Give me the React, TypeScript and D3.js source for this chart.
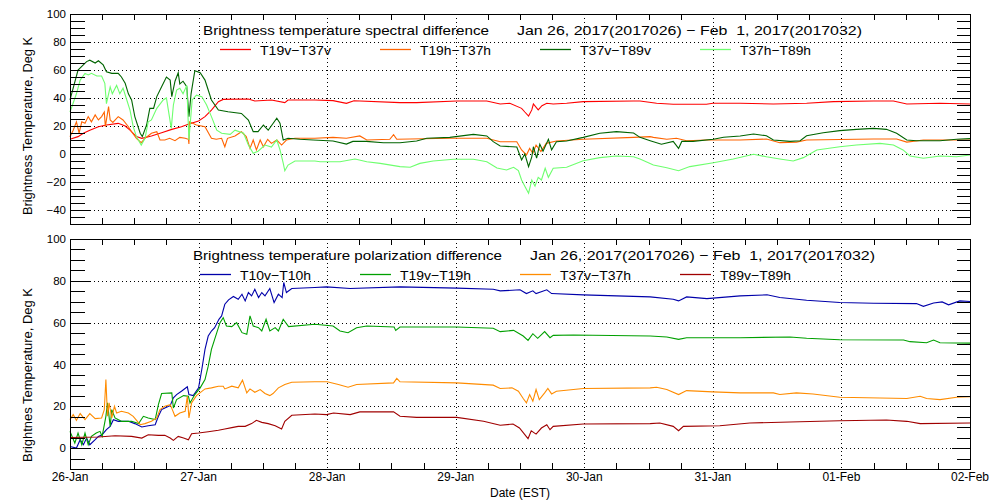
import * as d3 from "d3";

// hours since 26-Jan 00:00 EST, value in Deg K
const t19vT37v: [number, number][] = [
  [0, 10.5], [1.5, 12.4], [2.5, 14.8], [3.7, 17], [5.3, 19.5], [6.8, 20.7], [9, 21.9], [10.3, 20],
  [11.2, 17], [12.4, 12.4], [13.4, 11.2], [15.2, 12.9], [17.1, 15.2], [19, 17.6], [20.8, 19.5],
  [22.2, 21.4], [24, 23.6], [25.2, 26.7], [26.4, 31.4], [27.7, 37.4], [28.6, 39], [33.3, 39.3],
  [34.5, 37.9], [37.6, 38.6], [40.1, 36.7], [40.7, 38.6], [45.7, 38.6], [49.1, 38.1], [51.6, 36.2],
  [53, 38], [61.6, 36.7], [64.7, 36.7], [72.2, 37.9], [77.8, 37.9], [80.3, 35.7], [82.1, 36.2],
  [84.3, 32.6], [84.9, 30], [85.6, 27.1], [86.2, 31.5], [86.5, 35.7], [87.4, 31.5], [88.1, 34.5],
  [89, 36.2], [90.2, 35.7], [92.7, 36.2], [95.8, 37.4], [105.2, 37.9], [106.4, 37.9], [109.5, 36.2],
  [112.6, 35.5], [118.8, 35.5], [120, 36.2], [125.1, 36.2], [131.3, 35.7], [137.5, 36.2],
  [142.5, 37.4], [150, 37.9], [153.7, 37.9], [156.2, 35.7], [162.4, 36.2], [168, 35.7],
];

const t19hT37h: [number, number][] = [
  [0, 12.4], [0.6, 17], [1.2, 23], [1.7, 15], [2.2, 23], [2.8, 22], [3.4, 26.7], [4, 23], [4.7, 27.9],
  [5.3, 24.3], [5.9, 26.7], [6.4, 30], [6.6, 19.5], [7.2, 33.8], [7.5, 24.3], [8, 22.6], [9, 26.7],
  [9.9, 24.3], [10.9, 19.5], [11.5, 15.9], [12.4, 11.2], [13.3, 8.1], [14, 11.2], [15.2, 14.8],
  [16.2, 15.9], [16.8, 10], [17.7, 10], [18.6, 11.2], [19.6, 9.5], [20.5, 11.9], [21.5, 11.2],
  [22.1, 10.5], [22.2, 7.1], [22.3, 23], [23.6, 20.7], [25.2, 19.5], [26.4, 11.2], [27.3, 10.5],
  [28.3, 11.2], [28.9, 5.2], [29.4, 11.2], [30.8, 12.9], [32, 15.9], [32.9, 12.4], [33.6, 4],
  [34.2, 10], [34.8, 2.9], [35.5, 10], [36.1, 5.2], [36.9, 10.5], [37.6, 7.6], [38.6, 10],
  [39.5, 6.4], [40.4, 10], [42, 11.2], [45.7, 11.2], [49.1, 11.9], [51.6, 11.2], [54.1, 12.9],
  [55.4, 10], [59.7, 10.5], [60.4, 13.8], [61, 10.5], [70.9, 11.2], [77.8, 11.2], [80.3, 8.8],
  [83.4, 8.8], [84.3, 2.9], [85.2, -0.7], [85.8, 4], [86.4, 0.5], [87, 6.4], [87.9, 1.7], [88.9, 7.6],
  [90.8, 9.3], [95.8, 10.5], [105.2, 11.9], [108.3, 12.4], [108.9, 11.9], [111.4, 10.5],
  [113.2, 11.2], [115.1, 9.5], [118.8, 10], [125.1, 10], [130, 10.7], [132.5, 8.1], [135.6, 8.5],
  [137.5, 10], [150, 10.7], [154.3, 10.7], [156.2, 8.5], [159.3, 10], [168, 10],
];

const t37vT89v: [number, number][] = [
  [0, 38.6], [1.5, 60], [3.1, 66], [3.7, 67], [4.7, 65], [5.3, 66.6], [6.2, 63.6], [6.8, 58.8],
  [7.8, 57.6], [9, 57.6], [9.6, 55], [10.3, 50.5], [10.9, 43], [11.5, 38.6], [12.1, 26.7],
  [13.1, 14.8], [13.5, 12.4], [14.3, 20.7], [14.9, 32.6], [15.6, 32.6], [16.2, 41], [17.1, 48],
  [18, 55], [18.7, 52.8], [19, 41], [19.6, 52], [20.2, 58], [20.5, 50], [21.1, 52], [21.8, 48],
  [22.2, 26.7], [22.6, 43], [23.3, 59.5], [24.3, 58], [25.2, 52.8], [25.8, 45.7], [26.4, 38.6],
  [27.7, 31.4], [29.5, 30.2], [32, 29], [33.3, 24.3], [34.2, 16], [35.1, 16], [36.1, 20.7],
  [37, 17], [38.6, 25.5], [39.2, 22], [39.8, 10], [40.7, 11.2], [42.9, 10.5], [45.4, 10],
  [49.1, 9.3], [51.6, 7.1], [52.8, 9], [55.3, 9], [58.5, 8], [61.6, 8], [64.7, 9.3], [66.6, 11.2],
  [70.9, 11.9], [75.3, 14], [77.8, 12.9], [79, 8.8], [80.3, 5.7], [83.4, 5], [84.3, -4.3],
  [84.9, 0], [85.6, -9], [86.2, -2], [86.5, 5.2], [87.1, -3], [87.7, 7], [88.3, 2], [89.3, 10.5],
  [89.9, 3], [90.8, 8.8], [92.7, 9.3], [95.8, 11.9], [98.9, 14.8], [102, 16], [105.2, 15],
  [106.4, 11.9], [108.3, 9.5], [110.4, 7], [112.6, 9], [113.6, 4], [114.2, 9], [116.3, 9],
  [120.1, 10.5], [122, 12], [125.1, 12.9], [127.6, 14.3], [130, 13], [131.3, 10], [134.4, 9],
  [136.3, 9.5], [137.5, 13], [140.6, 15.2], [143.7, 16.7], [146.8, 17.6], [150, 18.3],
  [152.4, 17.6], [154.3, 14.8], [156.2, 10], [158, 9.5], [162.4, 9.5], [165.5, 10.5], [168, 11],
];

const t37hT89h: [number, number][] = [
  [0, 30], [1.2, 43], [1.9, 52.8], [2.8, 57.6], [3.4, 56.5], [4, 57.6], [5, 55.7], [5.9, 55.7],
  [6.5, 50.5], [6.8, 36], [7.5, 48], [7.9, 43], [8.7, 49], [9.3, 43], [9.9, 47], [10.6, 38.6],
  [11.2, 31.4], [11.8, 19.5], [12.4, 12.4], [13.3, 6.4], [14, 11.2], [14.6, 23], [15.2, 24.3],
  [16.2, 32.6], [17.4, 38.6], [18, 40], [18.9, 18.3], [19.3, 35], [19.9, 45.7], [20.5, 47],
  [21.1, 43], [21.8, 49], [22.2, 10], [22.8, 38.6], [23.6, 42], [24.6, 41], [25.5, 35],
  [26.4, 26.7], [27.4, 17], [28.3, 14.8], [29.9, 14], [30.8, 17], [32.4, 14.8], [33.3, 6.4],
  [34.2, 0.5], [35.1, 2], [36.4, 6.4], [37.6, 5], [38.6, 10], [39.2, 2.9], [39.8, -6.6],
  [40.1, -12], [40.7, -7.9], [42, -5], [45.7, -5], [46.7, -5.5], [50.4, -5.5], [53.2, -3.6],
  [55.4, -5.5], [57.9, -6.7], [61.6, -9], [63.5, -9.5], [65.3, -6.7], [67.8, -5], [71.6, -3.8],
  [75.3, -3.8], [77.8, -5.5], [79.7, -10], [81.5, -11.4], [82.8, -9.5], [83.7, -11.9],
  [84.3, -18.6], [84.9, -23], [85.6, -28], [86.2, -18.6], [86.8, -23], [87.4, -16.7], [88, -18.6],
  [88.7, -10.2], [89.3, -16.7], [90.2, -10.2], [92.7, -9.5], [95.8, -4.8], [98.9, -2.6],
  [102, -1.4], [105.2, -2], [106.4, -3.6], [108.9, -7.9], [111.4, -9.8], [113.6, -11.9],
  [115.7, -9], [120.1, -6.2], [123.8, -3.6], [127.6, -0.2], [130, -2], [132.5, -3.6], [135, -5],
  [136.9, -2.6], [139.4, 2.9], [143.7, 5.2], [146.8, 6.4], [151.2, 7.6], [153.7, 6.4],
  [155.5, 2.9], [156.8, -1.4], [159.3, -3], [162.4, -1.4], [165.5, -2], [168, -0.7],
];

const t10vT10h: [number, number][] = [
  [0, 0.8], [1.2, 0], [1.9, 4], [2.5, 1.6], [3.1, 4.8], [3.7, 1.6], [4.7, 4], [5.3, 5.6], [6, 6.4],
  [6.8, 8.8], [7.5, 10.4], [8.1, 13.6], [9, 12.8], [10.9, 12.8], [12.1, 11.7], [13.4, 10.1],
  [14.6, 10.7], [15.9, 11.2], [16.5, 15.2], [17.1, 18.4], [17.7, 19.2], [18.7, 20.3], [19.3, 24],
  [19.9, 25.6], [20.8, 27.2], [21.9, 29.3], [22.2, 25.6], [23, 25.1], [24, 28.8], [24.6, 37.6],
  [25.2, 47.2], [25.8, 53.6], [26.4, 56], [27, 57.6], [27.8, 61.6], [28.3, 63.2], [28.9, 68.8],
  [29.6, 70.9], [30.5, 72.5], [31.4, 71.2], [32.1, 73.6], [32.7, 70.4], [33.3, 74.4], [33.9, 72.8],
  [34.5, 76], [35.2, 72], [35.8, 74.4], [36.4, 72.8], [37.3, 76.3], [38.1, 69.6], [38.9, 73.6],
  [39.6, 72], [39.9, 79.2], [40.4, 74.4], [41.4, 76.3], [45.7, 76.8], [47.9, 77.1], [52.3, 76.3],
  [61.6, 77.1], [72.2, 76.5], [79, 76], [80.3, 75.2], [84, 75.7], [85.2, 73.9], [86.4, 75.2],
  [87, 73.9], [89, 75.7], [89.9, 73.9], [95.8, 73.3], [108.3, 72.3], [112.6, 71.2], [113.6, 70.4],
  [115.1, 72.3], [118.9, 71.5], [125.1, 72.8], [130.1, 73.3], [132.5, 72], [137.5, 70.7],
  [143.7, 69.6], [150, 69.3], [158, 69.1], [159.3, 67.8], [161.2, 69.4], [162.8, 69.9],
  [164, 68.5], [166.1, 70.4], [168, 70.1],
];

const t19vT19h: [number, number][] = [
  [0, 8], [0.9, 2.4], [1.5, 7.2], [2.2, 1.6], [2.8, 7.2], [3.4, 1.6], [4, 5.6], [4.9, 7.2], [5.6, 8],
  [6, 5.6], [6.7, 15.2], [7, 21.6], [7.5, 10.4], [7.8, 18.4], [8.4, 14.4], [9.6, 12.8],
  [11.5, 12.8], [12.8, 11.7], [13.7, 15.2], [14.6, 14.4], [15.9, 13.6], [16.5, 20.8], [17.1, 26.1],
  [19, 26.4], [19.3, 19.2], [19.9, 23.2], [21.2, 25.1], [22.1, 24.8], [22.4, 21.6], [23.3, 25.6],
  [24.3, 28.8], [25.2, 32.8], [25.8, 39.2], [26.4, 47.2], [27.4, 55.2], [28, 60], [28.6, 62.4],
  [29.2, 58.4], [30.2, 58.1], [31.1, 60], [32.1, 55.2], [33, 54.4], [33.6, 63.2], [34.2, 58.4],
  [35.2, 57.6], [35.8, 56], [36.6, 61.6], [37.3, 56], [38.3, 57.6], [38.9, 56], [39.8, 61.6],
  [40.8, 58.1], [45.7, 59.2], [49.1, 58.4], [50.4, 56], [51.9, 55.2], [53.5, 57.6], [55.4, 58.4],
  [60.5, 57.9], [60.8, 56.3], [61.6, 57.9], [72.2, 57.9], [79, 57.3], [80.3, 55.7], [82.8, 56.3],
  [84.6, 53.6], [85.5, 51.5], [86.4, 54.7], [87.3, 52.5], [88.6, 55.7], [89.6, 52.8], [90.2, 53.9],
  [94, 54.1], [108.3, 53.6], [111.4, 53.1], [113.6, 52], [115.1, 52.8], [125.1, 52.8],
  [134.4, 53.1], [137.5, 52.5], [143.7, 51.8], [155.6, 51.7], [156.8, 50.9], [159.9, 50.4],
  [161.2, 51.7], [162.4, 50.4], [168, 50.2],
];

const t37vT37h: [number, number][] = [
  [0, 13.6], [0.6, 16], [1.2, 13.3], [1.9, 16.5], [2.8, 13.6], [3.7, 16.5], [4.7, 14.1], [5.9, 14.4],
  [6.4, 18.4], [6.7, 32.8], [7, 15.2], [7.3, 21.6], [7.8, 14.4], [8.3, 20], [8.7, 16.8], [9.6, 17.6],
  [10.9, 16.8], [11.8, 15.2], [13.1, 11.2], [14, 11.7], [15.2, 12.8], [16.2, 14.4], [16.8, 18.4],
  [17.7, 20], [18.7, 20.8], [19.1, 18.4], [19.6, 15.2], [20.5, 16.8], [21.5, 17.6], [21.9, 24.8],
  [22.2, 14.4], [22.7, 21.6], [23.6, 25.1], [25.2, 28.3], [26.4, 28.8], [27.7, 29.6], [28.6, 29.6],
  [28.9, 28.3], [30.2, 29.6], [31.4, 28.8], [32.2, 32.5], [33, 26.4], [33.6, 28.3], [34.5, 26.7],
  [35.5, 28], [36.4, 26.1], [37.3, 25.1], [37.9, 26.1], [38.9, 28.8], [40.1, 30.4], [41.4, 31.5],
  [45.7, 31.7], [48, 31.7], [50.1, 30.4], [51.9, 29.1], [53.5, 30.4], [60.4, 31.2], [61, 33.3],
  [61.6, 31.7], [72.2, 31.2], [79, 30.1], [80.3, 28.5], [82.5, 28.8], [83.7, 27.2], [84.6, 23.7],
  [85.2, 21.6], [85.8, 25.6], [86.4, 22.4], [87, 28], [87.6, 23.2], [88.6, 26.4], [89.2, 28.5],
  [89.9, 25.9], [90.8, 27.2], [95.8, 28.5], [108.3, 28.8], [109.5, 29.1], [111.4, 28],
  [113.6, 25.6], [115.1, 27.5], [120, 26.9], [125.1, 26.4], [131.3, 26.4], [132.5, 25.6],
  [135.6, 26.4], [138.7, 25.9], [143.7, 24.3], [156.2, 23.7], [158.7, 24.8], [159.9, 23.7],
  [162.4, 23.2], [165.5, 24.3], [168, 24.6],
];

const t89vT89h: [number, number][] = [
  [0, 5.1], [5.3, 5.3], [8.4, 5.9], [11.5, 5.6], [13.4, 4.8], [14.6, 6.4], [16.5, 6.1], [17.7, 6.1],
  [18.7, 4.8], [19.3, 3.7], [20.2, 5.6], [21.2, 4.8], [22.1, 4], [22.7, 6.9], [24, 7.2], [25.8, 7.8],
  [27.7, 8.5], [28.9, 9.1], [30.2, 9.8], [31.4, 10.4], [32.7, 10.4], [33.9, 11.7], [34.8, 13.3],
  [35.8, 12.3], [37, 11.7], [38.3, 10.7], [39.5, 9.1], [40.1, 12.8], [41.4, 15.7], [45.7, 16.3],
  [47.9, 16], [49.2, 16.8], [52.3, 16], [54.1, 17.3], [60.4, 17.3], [61.6, 15.2], [64.7, 14.7],
  [72.2, 14.7], [77.2, 12.8], [80.3, 10.9], [82.7, 11.5], [83.9, 9.6], [84.9, 6.4], [85.5, 4.5],
  [86.1, 8.3], [87, 6.7], [88, 9.6], [89, 11.2], [89.6, 8.8], [90.2, 10.4], [95.8, 11.5],
  [108.3, 11.7], [110.1, 12], [112.6, 10.4], [113.6, 8.3], [114.5, 10.4], [121.3, 10.7],
  [126.9, 12], [134.4, 12.5], [143.7, 13.1], [152.4, 13.4], [156.2, 12.8], [158.7, 11.7], [168, 12],
];

const dayLabels = ["26-Jan", "27-Jan", "28-Jan", "29-Jan", "30-Jan", "31-Jan", "01-Feb", "02-Feb"];
const spectralNames = ["T19v−T37v", "T19h−T37h", "T37v−T89v", "T37h−T89h"];
const polarNames = ["T10v−T10h", "T19v−T19h", "T37v−T37h", "T89v−T89h"];
const dateRange = "Jan 26, 2017(2017026) − Feb  1, 2017(2017032)";

const spectralColors = ["#ff0000", "#ff6400", "#006400", "#6eff6e"];
const polarColors = ["#0000aa", "#00a000", "#ff8c00", "#a00000"];

const FONT = "'Liberation Sans', Arial, sans-serif";
const W = 1000;
const H = 500;
const L = 70;
const R = 970;

const x = d3.scaleLinear().domain([0, 168]).range([L, R]);

interface PanelProps {
  top: number;
  bottom: number;
  yDomain: [number, number];
  series: [number, number][][];
  names: string[];
  colors: string[];
  title: string;
  titleX: number;
  titleLen: number;
  dateX: number;
  titleY: number;
  legendX: number;
  legendY: number;
  yTitle: string;
  yTitleY: number;
  yTitleLen: number;
  xLabels: boolean;
}

function Panel(p: PanelProps) {
  const y = d3.scaleLinear().domain(p.yDomain).range([p.bottom, p.top]);
  const line = d3
    .line<[number, number]>()
    .x((d) => x(d[0]))
    .y((d) => y(d[1]));
  const yTicks = d3.range(p.yDomain[0], p.yDomain[1] + 1, 5);
  const xTicks = d3.range(0, 169, 6);
  const fmt = d3.format("d");

  return (
    <g>
      {/* dotted grid at the major ticks */}
      {yTicks
        .filter((v) => v % 20 === 0 && v !== p.yDomain[0] && v !== p.yDomain[1])
        .map((v) => (
          <line key={"gy" + v} x1={L} x2={R} y1={Math.round(y(v)) + 0.5} y2={Math.round(y(v)) + 0.5}
            stroke="#000" strokeDasharray="1,3" />
        ))}
      {xTicks
        .filter((h) => h % 24 === 0 && h !== 0 && h !== 168)
        .map((h) => (
          <line key={"gx" + h} x1={Math.round(x(h)) + 0.5} x2={Math.round(x(h)) + 0.5} y1={p.top} y2={p.bottom}
            stroke="#000" strokeDasharray="1,3" />
        ))}

      {/* data */}
      {p.series.map((s, i) => (
        <path key={p.names[i]} d={line(s) ?? ""} fill="none" stroke={p.colors[i]} strokeWidth={1.1} />
      ))}

      {/* ticks + frame */}
      <g shapeRendering="crispEdges" stroke="#000">
        {yTicks.map((v) => {
          const major = v % 20 === 0;
          const yy = Math.round(y(v)) + 0.5;
          return (
            <g key={"ty" + v}>
              <line x1={L} x2={L + (major ? 20 : 15)} y1={yy} y2={yy} />
              <line x1={R - (major ? 18 : 13)} x2={R} y1={yy} y2={yy} />
            </g>
          );
        })}
        {xTicks
          .filter((h) => h % 24 !== 0)
          .map((h) => {
            const xx = Math.round(x(h)) + 0.5;
            return (
              <g key={"tx" + h}>
                <line x1={xx} x2={xx} y1={p.top} y2={p.top + 6} />
                <line x1={xx} x2={xx} y1={p.bottom} y2={p.bottom - 6} />
              </g>
            );
          })}
        <rect x={L + 0.5} y={p.top + 0.5} width={R - L} height={p.bottom - p.top} fill="none" />
      </g>

      {/* y labels */}
      <g fontFamily={FONT} fontSize={11.5} textAnchor="end">
        {yTicks
          .filter((v) => v % 20 === 0)
          .map((v) => (
            <text key={"ly" + v} x={66} y={y(v)} dy="0.36em">
              {fmt(v)}
            </text>
          ))}
      </g>

      <text
        fontFamily={FONT}
        fontSize={13}
        textAnchor="middle"
        textLength={p.yTitleLen}
        lengthAdjust="spacingAndGlyphs"
        transform={`translate(32,${p.yTitleY}) rotate(-90)`}
      >
        {p.yTitle}
      </text>

      {/* title */}
      <text x={p.titleX} y={p.titleY} fontFamily={FONT} fontSize={13} textLength={p.titleLen}
        lengthAdjust="spacingAndGlyphs">
        {p.title}
      </text>
      <text x={p.dateX} y={p.titleY} fontFamily={FONT} fontSize={13} textLength={345}
        lengthAdjust="spacingAndGlyphs" xmlSpace="preserve" style={{ whiteSpace: "pre" }}>
        {dateRange}
      </text>

      {/* legend */}
      {p.names.map((n, i) => {
        const lx = p.legendX + i * 160;
        return (
          <g key={"lg" + n}>
            <line x1={lx} x2={lx + 31} y1={p.legendY - 5.5} y2={p.legendY - 5.5} stroke={p.colors[i]}
              strokeWidth={1.3} />
            <text x={lx + 40} y={p.legendY} fontFamily={FONT} fontSize={13} textLength={71}
              lengthAdjust="spacingAndGlyphs">
              {n}
            </text>
          </g>
        );
      })}

      {p.xLabels && (
        <g fontFamily={FONT} fontSize={12} textAnchor="middle">
          {dayLabels.map((d, i) => (
            <text key={d} x={x(i * 24)} y={p.bottom + 12}>
              {d}
            </text>
          ))}
          <text x={(L + R) / 2} y={p.bottom + 28}>
            Date (EST)
          </text>
        </g>
      )}
    </g>
  );
}

export default function App() {
  return (
    <svg
      width={W}
      height={H}
      viewBox={`0 0 ${W} ${H}`}
      style={{ position: "absolute", left: 0, top: 0, background: "#fff", display: "block" }}
    >
      <rect width={W} height={H} fill="#fff" />
      <Panel
        top={14}
        bottom={224}
        yDomain={[-50, 100]}
        series={[t19vT37v, t19hT37h, t37vT89v, t37hT89h]}
        names={spectralNames}
        colors={spectralColors}
        title="Brightness temperature spectral difference"
        titleX={203}
        titleLen={286}
        dateX={517}
        titleY={35}
        legendX={220}
        legendY={55}
        yTitle="Brightness Temperature, Deg K"
        yTitleY={126}
        yTitleLen={178}
        xLabels={false}
      />
      <Panel
        top={239}
        bottom={469}
        yDomain={[-10, 100]}
        series={[t10vT10h, t19vT19h, t37vT37h, t89vT89h]}
        names={polarNames}
        colors={polarColors}
        title="Brightness temperature polarization difference"
        titleX={193}
        titleLen={309}
        dateX={530}
        titleY={260}
        legendX={200}
        legendY={280}
        yTitle="Brightnes Temperature, Deg K"
        yTitleY={375}
        yTitleLen={174}
        xLabels={true}
      />
    </svg>
  );
}
